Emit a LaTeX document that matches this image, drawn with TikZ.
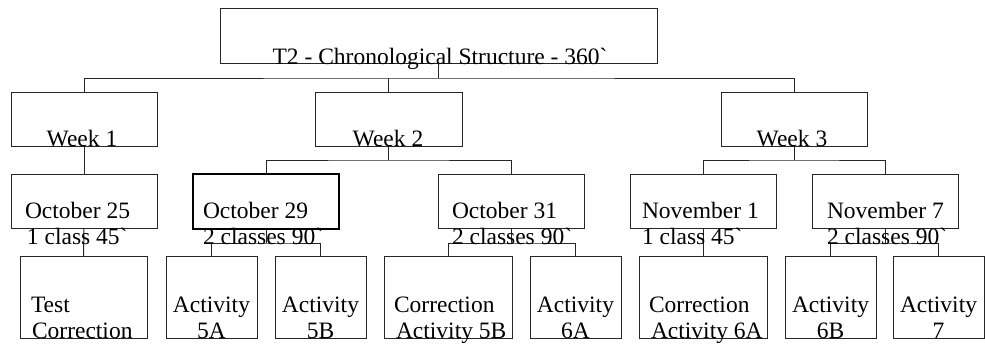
\documentclass[tikz,border=0pt]{standalone}
\usepackage{fontspec}
\setmainfont{Liberation Serif}
\begin{document}
\begin{tikzpicture}[x=1pt,y=-1pt,
  box/.style={draw=black!85,line width=1pt,inner sep=0pt,outer sep=0pt,rectangle},
  boldbox/.style={box,draw=black,line width=2pt},
  link/.style={draw=black!85,line width=1pt},
  txt/.style={inner sep=0pt,outer sep=0pt,font=\fontsize{23.5}{26}\selectfont,text=black},
  tl/.style={txt,anchor=base west},
  tc/.style={txt,anchor=base}]
\useasboundingbox[fill=white] (0,0) rectangle (985,345);
% boxes
\node[box,minimum width=437pt,minimum height=55pt] (root) at (438.5,36.5) {};
\node[box,minimum width=146pt,minimum height=54pt] (w1) at (84,119) {};
\node[box,minimum width=147pt,minimum height=54pt] (w2) at (388.5,119) {};
\node[box,minimum width=146pt,minimum height=54pt] (w3) at (794,119) {};
\node[box,minimum width=146pt,minimum height=54pt] (d25) at (84,201) {};
\node[boldbox,minimum width=146pt,minimum height=55pt] (d29) at (266,201.5) {};
\node[box,minimum width=146pt,minimum height=54pt] (d31) at (511,201) {};
\node[box,minimum width=146pt,minimum height=54pt] (n1) at (703,201) {};
\node[box,minimum width=146pt,minimum height=54pt] (n7) at (885,201) {};
\node[box,minimum width=127pt,minimum height=82pt] (tcor) at (83.5,297) {};
\node[box,minimum width=91pt,minimum height=82pt] (a5a) at (211.5,297) {};
\node[box,minimum width=91pt,minimum height=82pt] (a5b) at (320.5,297) {};
\node[box,minimum width=128pt,minimum height=82pt] (c5b) at (448,297) {};
\node[box,minimum width=91pt,minimum height=82pt] (a6a) at (575.5,297) {};
\node[box,minimum width=128pt,minimum height=82pt] (c6a) at (703,297) {};
\node[box,minimum width=91pt,minimum height=82pt] (a6b) at (830.5,297) {};
\node[box,minimum width=91pt,minimum height=82pt] (a7) at (938.5,297) {};
% bus coordinates
\coordinate (b0) at (438.5,78);
\coordinate (b2) at (388.5,160);
\coordinate (b3) at (794,160);
\coordinate (b29) at (266,243);
\coordinate (b31) at (511,243);
\coordinate (b7) at (885,243);
% connectors
\draw[link] (root.south) -- (b0);
\draw[link] (w1.north) |- (b0) -| (w3.north);
\draw[link] (w2.north) -- (w2.north |- b0);
\draw[link] (w1.south) -- (d25.north);
\draw[link] (w2.south) -- (b2);
\draw[link] (d29.north) |- (b2) -| (d31.north);
\draw[link] (w3.south) -- (b3);
\draw[link] (n1.north) |- (b3) -| (n7.north);
\draw[link] (d25.south) -- (tcor.north);
\draw[link] (d29.south) -- (b29);
\draw[link] (a5a.north) |- (b29) -| (a5b.north);
\draw[link] (d31.south) -- (b31);
\draw[link] (c5b.north) |- (b31) -| (a6a.north);
\draw[link] (n1.south) -- (c6a.north);
\draw[link] (n7.south) -- (b7);
\draw[link] (a6b.north) |- (b7) -| (a7.north);
% texts
\node[tc] (troot) at (440,64) {T2 - Chronological Structure - 360\textasciigrave};
\node[tc] (tw1) at (82,146) {Week 1};
\node[tc] (tw2) at (388,146) {Week 2};
\node[tc] (tw3) at (792,146) {Week 3};
\node[tl] (t25a) at (25,218) {October 25};
\node[tl] (t25b) at (27,244) {1 class 45\textasciigrave};
\node[tl] (t29a) at (203,218) {October 29};
\node[tl] (t29b) at (203,244) {2 classes 90\textasciigrave};
\node[tl] (t31a) at (452,218) {October 31};
\node[tl] (t31b) at (452,244) {2 classes 90\textasciigrave};
\node[tl] (tn1a) at (642,218) {November 1};
\node[tl] (tn1b) at (642,244) {1 class 45\textasciigrave};
\node[tl] (tn7a) at (827,218) {November 7};
\node[tl] (tn7b) at (827,244) {2 classes 90\textasciigrave};
\node[tl] (ttc1) at (31,312) {Test};
\node[tl] (ttc2) at (32,338) {Correction};
\node[tc] (t5a1) at (211.5,312) {Activity};
\node[tc] (t5a2) at (211.5,338) {5A};
\node[tc] (t5b1) at (320.5,312) {Activity};
\node[tc] (t5b2) at (320.5,338) {5B};
\node[tl] (tc5b1) at (394,312) {Correction};
\node[tl] (tc5b2) at (396,338) {Activity 5B};
\node[tc] (t6a1) at (575.5,312) {Activity};
\node[tc] (t6a2) at (575.5,338) {6A};
\node[tl] (tc6a1) at (649,312) {Correction};
\node[tl] (tc6a2) at (651,338) {Activity 6A};
\node[tc] (t6b1) at (830.5,312) {Activity};
\node[tc] (t6b2) at (830.5,338) {6B};
\node[tc] (t71) at (938.5,312) {Activity};
\node[tc] (t72) at (938.5,338) {7};
\end{tikzpicture}
\end{document}
